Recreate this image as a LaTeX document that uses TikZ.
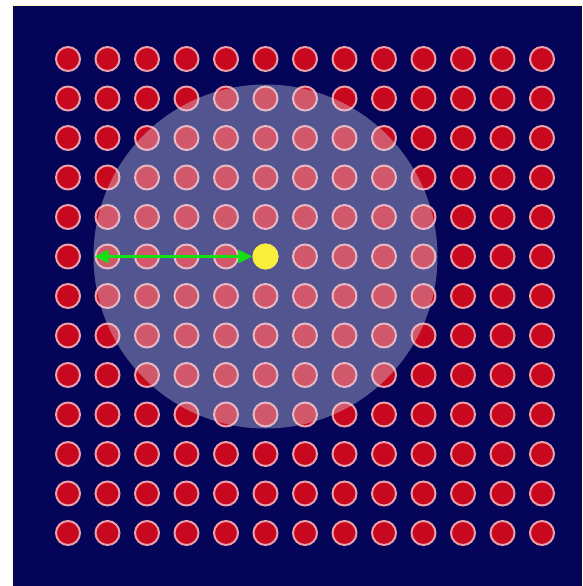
\documentclass[tikz,border=0pt]{standalone}
\usetikzlibrary{arrows.meta}
\definecolor{navy}{RGB}{4,4,88}
\definecolor{dotred}{RGB}{200,8,30}
\definecolor{ringpink}{RGB}{232,160,170}
\definecolor{dotyellow}{RGB}{250,238,60}
\definecolor{arrgreen}{RGB}{20,225,20}
\definecolor{halo}{RGB}{225,230,245}
\tikzset{
  reddot/.style={circle, fill=dotred, draw=ringpink, line width=2pt, minimum size=24pt, inner sep=0pt},
  yeldot/.style={circle, fill=dotyellow, minimum size=26pt, inner sep=0pt},
  rangearrow/.style={arrgreen, line width=2.8pt, {Triangle[length=14pt,width=13pt]}-{Triangle[length=14pt,width=13pt]}},
  haloregion/.style={fill=halo, fill opacity=0.36}
}
\begin{document}
\begin{tikzpicture}[x=1pt,y=-1pt]
\useasboundingbox (0,0) rectangle (582,586);
\fill[white] (0,0) rectangle (582,586);
\draw[yellow!30!white, line width=1pt] (12.5,5.5) -- (582,5.5);
\draw[yellow!30!white, line width=1pt] (12.5,5.5) -- (12.5,586);
\fill[navy] (13,6) rectangle (582,586);
\foreach \i in {0,...,12}{
  \foreach \j in {0,...,12}{
    \node[reddot] (c-\i-\j) at ({68+39.5*\i},{59+39.5*\j}) {};
  }
}
\fill[haloregion] (c-5-5.center) circle[radius=172];
\node[yeldot] (yel) at (c-5-5.center) {};
\draw[rangearrow] (c-1-5.west) -- (yel.west);
\end{tikzpicture}
\end{document}
